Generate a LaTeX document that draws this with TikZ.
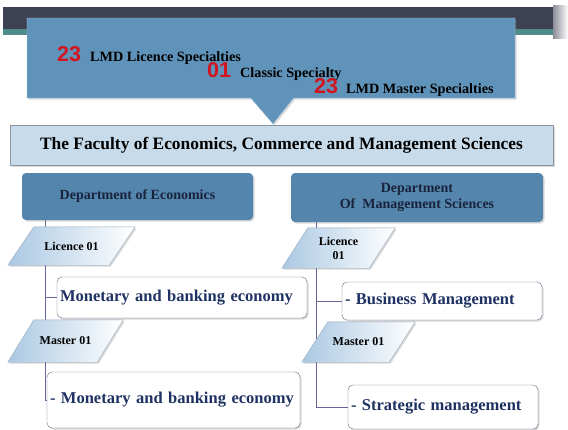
\documentclass[tikz,border=0pt]{standalone}
\usepackage{fontspec}
\setmainfont{Liberation Serif}
\newfontfamily\numfont{Liberation Sans}
\usetikzlibrary{shadows,shapes.callouts,backgrounds}

\definecolor{bandgrey}{RGB}{62,64,84}
\definecolor{bandteal}{RGB}{78,140,135}
\definecolor{calloutblue}{RGB}{96,147,186}
\definecolor{calloutedge}{RGB}{175,205,225}
\definecolor{facblue}{RGB}{200,219,234}
\definecolor{facedge}{RGB}{140,150,160}
\definecolor{deptblue}{RGB}{84,133,172}
\definecolor{paralblue}{RGB}{170,200,226}
\definecolor{paraledge}{RGB}{150,170,190}
\definecolor{boxedge}{RGB}{105,105,135}
\definecolor{navytext}{RGB}{31,50,99}
\definecolor{depttext}{RGB}{25,35,60}
\definecolor{numred}{RGB}{210,20,30}

\tikzset{
  softshadow/.style={drop shadow={shadow xshift=1.5pt,shadow yshift=-1.5pt,opacity=0.3}},
  facbox/.style={draw=facedge,fill=facblue,softshadow,
    font=\bfseries\fontsize{17.4}{19}\selectfont},
  deptbox/.style={fill=deptblue,rounded corners=4pt,softshadow,align=center,
    text=depttext,font=\bfseries\fontsize{14}{16}\selectfont},
  levelbox/.style={align=center,inner sep=1pt,font=\bfseries\fontsize{12}{14}\selectfont},
  levelfill/.style={draw=paraledge,left color=paralblue,right color=white,softshadow},
  specbox/.style={draw=boxedge,fill=white,rounded corners=5pt,softshadow,
    text=navytext,align=left,inner xsep=3pt,font=\bfseries\fontsize{16.5}{18}\selectfont},
  specnum/.style={anchor=base west,inner sep=0pt,text=numred,
    font=\numfont\bfseries\fontsize{21.5}{22}\selectfont},
  spectext/.style={anchor=base west,inner sep=0pt,
    font=\bfseries\fontsize{14.2}{16}\selectfont},
  trunk/.style={draw=gray!80!blue,line width=0.8pt}
}
% slanted frame round a level node
\newcommand{\lslant}{13pt}
\newcommand{\levelshape}[1]{%
  \path[levelfill] ([xshift=-\lslant]#1.south west) -- ([xshift=-\lslant]#1.south east)
    -- ([xshift=\lslant]#1.north east) -- ([xshift=\lslant]#1.north west) -- cycle;}

\begin{document}
\begin{tikzpicture}[x=1pt,y=-1pt]
\useasboundingbox (0,0) rectangle (568,429);

% top band of the slide
\fill[bandgrey] (3,7) rectangle (553,29);
\fill[bandteal] (3,29) rectangle (553,35);
\shade[left color=bandgrey!60,right color=white] (553,5) rectangle (568,38);

% faculty and the callout pointing at it
\node[facbox,minimum width=543pt,minimum height=40pt] (fac) at (281.5,145)
  {The Faculty of Economics, Commerce and Management Sciences};
\coordinate (tip) at (273,124);
\node[rectangle callout,fill=calloutblue,draw=calloutedge,softshadow,
  minimum width=488pt,minimum height=80pt,
  callout absolute pointer={(tip)},callout pointer width=43pt] (spec) at (271,58) {};

\node[specnum] (n1) at (57,61) {23};
\node[spectext] (t1) at (90,61) {LMD Licence Specialties};
\node[specnum] (n2) at (207,77) {01};
\node[spectext] (t2) at (240,77) {Classic Specialty};
\node[specnum] (n3) at (314,93) {23};
\node[spectext] (t3) at (346,93) {LMD Master Specialties};

% departments
\node[deptbox,minimum width=231pt,minimum height=47pt] (econ) at (137.5,196.5)
  {Department of Economics};
\node[deptbox,minimum width=252pt,minimum height=49pt] (mgmt) at (417,197.5)
  {Department\\Of~ Management Sciences};

% economics branch
\node[levelbox,minimum width=101pt,minimum height=38pt] (lic1) at (71.5,246) {Licence 01};
\node[specbox,minimum height=41pt,text width=244pt] (mbe1) at (182,297.5)
  {Monetary and banking economy};
\node[levelbox,minimum width=89pt,minimum height=42pt] (mas1) at (65.5,341) {Master 01};
\node[specbox,minimum height=56pt,text width=247pt] (mbe2) at (173.5,400)
  {- Monetary and banking economy};

% management branch
\node[levelbox,minimum width=87pt,minimum height=40pt] (lic2) at (338.5,248) {Licence\\01};
\node[specbox,minimum height=38pt,text width=194pt] (bm) at (442,301)
  {- Business Management};
\node[levelbox,minimum width=87pt,minimum height=40pt] (mas2) at (358.5,342) {Master 01};
\node[specbox,minimum height=44pt,text width=184pt] (sm) at (443,407)
  {- Strategic management};

\coordinate (ltrunk) at (45,230);
\coordinate (rtrunk) at (316,230);
\begin{pgfonlayer}{background}
\draw[trunk] (ltrunk |- econ.south) |- (mbe1.west);
\draw[trunk] (ltrunk |- econ.south) |- (mbe2.west);
\draw[trunk] (rtrunk |- mgmt.south) |- (bm.west);
\draw[trunk] (rtrunk |- mgmt.south) |- (sm.west);
\levelshape{lic1}
\levelshape{mas1}
\levelshape{lic2}
\levelshape{mas2}
\end{pgfonlayer}
\end{tikzpicture}
\end{document}
